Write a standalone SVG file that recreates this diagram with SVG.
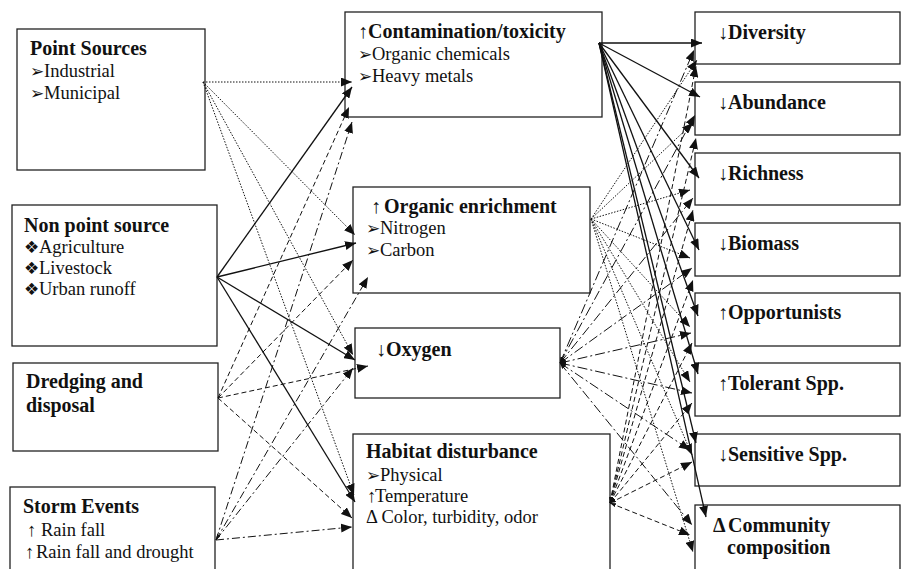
<svg xmlns="http://www.w3.org/2000/svg" width="901" height="569" viewBox="0 0 901 569">
<defs>
<marker id="ah" markerUnits="userSpaceOnUse" markerWidth="12" markerHeight="9" refX="11" refY="4.5" orient="auto"><path d="M0,0 L11,4.5 L0,9 z" fill="#111"/></marker>
<marker id="sm" markerUnits="userSpaceOnUse" markerWidth="7" markerHeight="5" refX="6" refY="2" orient="auto-start-reverse"><path d="M0,0 L6,2 L0,4 z" fill="#111"/></marker>
</defs>
<style>
rect{fill:#fff;stroke:#222;stroke-width:1.3}
text{font-family:"Liberation Serif","Times New Roman",serif;fill:#111}
.b{font-weight:bold;font-size:20px}
.r{font-size:18.5px}
.sym{font-family:"DejaVu Sans",sans-serif;font-size:17px;fill:#111}
.ar{font-family:"Liberation Serif","DejaVu Serif",serif;fill:#111}
line{stroke:#111;stroke-width:1;fill:none;marker-end:url(#ah)}
.sd{stroke-width:1.3}
.dt{stroke-dasharray:1.5 1.5}
.ds{stroke-dasharray:5 3}
.dd{stroke-dasharray:8 3 2 3}
.ox{stroke-dasharray:10 3 2 3;marker-start:url(#sm)}
.hb{stroke-dasharray:5 3;marker-start:url(#sm)}
</style>

<g id="point-sources">
<rect x="17" y="29" width="188" height="141"/>
<text class="b" x="30" y="55">Point Sources</text>
<text class="r" x="30" y="77"><tspan class="sym">➢</tspan><tspan x="44">Industrial</tspan></text>
<text class="r" x="30" y="99"><tspan class="sym">➢</tspan><tspan x="44">Municipal</tspan></text>
</g>
<g id="non-point-source">
<rect x="12" y="205" width="205" height="141"/>
<text class="b" x="24" y="232">Non point source</text>
<text class="r" x="24" y="253"><tspan class="sym">❖</tspan><tspan x="39">Agriculture</tspan></text>
<text class="r" x="24" y="274"><tspan class="sym">❖</tspan><tspan x="39">Livestock</tspan></text>
<text class="r" x="24" y="295"><tspan class="sym">❖</tspan><tspan x="39">Urban runoff</tspan></text>
</g>
<g id="dredging">
<rect x="13" y="363" width="205" height="88"/>
<text class="b" x="26" y="388">Dredging and</text>
<text class="b" x="26" y="412">disposal</text>
</g>
<g id="storm-events">
<rect x="10" y="487" width="205" height="100"/>
<text class="b" x="23" y="513">Storm Events</text>
<text class="r" x="27" y="536"><tspan class="ar">↑</tspan><tspan x="41">Rain fall</tspan></text>
<text class="r" x="25" y="558"><tspan class="ar">↑</tspan><tspan x="36">Rain fall and drought</tspan></text>
</g>

<g id="contamination">
<rect x="345" y="12" width="257" height="105"/>
<text class="b" x="358" y="38"><tspan class="ar">↑</tspan><tspan x="368">Contamination/toxicity</tspan></text>
<text class="r" x="358" y="60"><tspan class="sym">➢</tspan><tspan x="372">Organic chemicals</tspan></text>
<text class="r" x="358" y="82"><tspan class="sym">➢</tspan><tspan x="372">Heavy metals</tspan></text>
</g>
<g id="organic-enrichment">
<rect x="353" y="187" width="237" height="106"/>
<text class="b" x="371" y="213"><tspan class="ar">↑</tspan><tspan x="384">Organic enrichment</tspan></text>
<text class="r" x="366" y="234"><tspan class="sym">➢</tspan><tspan x="380">Nitrogen</tspan></text>
<text class="r" x="366" y="256"><tspan class="sym">➢</tspan><tspan x="380">Carbon</tspan></text>
</g>
<g id="oxygen">
<rect x="355" y="328" width="205" height="70"/>
<text class="b" x="376" y="356"><tspan class="ar">↓</tspan><tspan x="386">Oxygen</tspan></text>
</g>
<g id="habitat">
<rect x="353" y="434" width="257" height="150"/>
<text class="b" x="366" y="458">Habitat disturbance</text>
<text class="r" x="366" y="481"><tspan class="sym">➢</tspan><tspan x="380">Physical</tspan></text>
<text class="r" x="367" y="502"><tspan class="ar">↑</tspan><tspan x="375">Temperature</tspan></text>
<text class="r" x="366" y="523">Δ Color, turbidity, odor</text>
</g>

<g id="diversity"><rect x="695" y="12" width="205" height="52"/><text class="b" x="718" y="39"><tspan class="ar">↓</tspan><tspan x="728">Diversity</tspan></text></g>
<g id="abundance"><rect x="695" y="82" width="205" height="53"/><text class="b" x="718" y="109"><tspan class="ar">↓</tspan><tspan x="728">Abundance</tspan></text></g>
<g id="richness"><rect x="695" y="153" width="205" height="52"/><text class="b" x="718" y="180"><tspan class="ar">↓</tspan><tspan x="728">Richness</tspan></text></g>
<g id="biomass"><rect x="695" y="223" width="205" height="53"/><text class="b" x="718" y="250"><tspan class="ar">↓</tspan><tspan x="728">Biomass</tspan></text></g>
<g id="opportunists"><rect x="695" y="293" width="205" height="53"/><text class="b" x="718" y="319"><tspan class="ar">↑</tspan><tspan x="728">Opportunists</tspan></text></g>
<g id="tolerant"><rect x="695" y="363" width="205" height="53"/><text class="b" x="718" y="390"><tspan class="ar">↑</tspan><tspan x="728">Tolerant Spp.</tspan></text></g>
<g id="sensitive"><rect x="695" y="434" width="205" height="52"/><text class="b" x="718" y="461"><tspan class="ar">↓</tspan><tspan x="728">Sensitive Spp.</tspan></text></g>
<g id="community"><rect x="695" y="505" width="205" height="80"/><text class="b" x="713" y="532">Δ<tspan x="728">Community</tspan></text><text class="b" x="727" y="554">composition</text></g>

<g id="connectors">
<line class="dt" x1="203" y1="82" x2="352" y2="82"/>
<line class="dt" x1="203" y1="82" x2="355" y2="235"/>
<line class="dt" x1="203" y1="82" x2="353" y2="355"/>
<line class="dt" x1="203" y1="82" x2="354" y2="495"/>
<line class="sd" x1="217" y1="277" x2="352" y2="87"/>
<line class="sd" x1="217" y1="277" x2="356" y2="243"/>
<line class="sd" x1="217" y1="277" x2="355" y2="360"/>
<line class="sd" x1="217" y1="277" x2="355" y2="502"/>
<line class="ds" x1="218" y1="398" x2="349" y2="107"/>
<line class="ds" x1="218" y1="398" x2="353" y2="260"/>
<line class="ds" x1="218" y1="398" x2="368" y2="366"/>
<line class="ds" x1="218" y1="398" x2="352" y2="518"/>
<line class="dd" x1="216" y1="540" x2="352" y2="122"/>
<line class="dd" x1="216" y1="540" x2="368" y2="277" style="marker-start:url(#sm)"/>
<line class="dd" x1="216" y1="540" x2="353" y2="368"/>
<line class="dd" x1="216" y1="540" x2="352" y2="527"/>

<line class="sd" x1="599" y1="43" x2="702" y2="43"/>
<line class="sd" x1="599" y1="43" x2="700" y2="97"/>
<line class="sd" x1="599" y1="43" x2="699" y2="178"/>
<line class="sd" x1="599" y1="43" x2="699" y2="250"/>
<line class="sd" x1="599" y1="43" x2="698" y2="316"/>
<line class="sd" x1="599" y1="43" x2="698" y2="374"/>
<line class="sd" x1="599" y1="43" x2="696" y2="443"/>
<line class="sd" x1="599" y1="43" x2="706" y2="517"/>

<line class="dt" x1="591" y1="219" x2="697" y2="60"/>
<line class="dt" x1="591" y1="219" x2="693" y2="123"/>
<line class="dt" x1="591" y1="219" x2="690" y2="190"/>
<line class="dt" x1="591" y1="219" x2="690" y2="258"/>
<line class="dt" x1="591" y1="219" x2="690" y2="327"/>
<line class="dt" x1="591" y1="219" x2="690" y2="382"/>
<line class="dt" x1="591" y1="219" x2="692" y2="455"/>
<line class="dt" x1="591" y1="219" x2="693" y2="552"/>

<line class="ox" x1="560" y1="363" x2="694" y2="50"/>
<line class="ox" x1="560" y1="363" x2="695" y2="115"/>
<line class="ox" x1="560" y1="363" x2="693" y2="198"/>
<line class="ox" x1="560" y1="363" x2="692" y2="268"/>
<line class="ox" x1="560" y1="363" x2="691" y2="333"/>
<line class="ox" x1="560" y1="363" x2="692" y2="393"/>
<line class="ox" x1="560" y1="363" x2="690" y2="450"/>
<line class="ox" x1="560" y1="363" x2="692" y2="525"/>

<line class="hb" x1="610" y1="503" x2="696" y2="66"/>
<line class="hb" x1="610" y1="503" x2="696" y2="138"/>
<line class="hb" x1="610" y1="503" x2="693" y2="210"/>
<line class="hb" x1="610" y1="503" x2="693" y2="280"/>
<line class="hb" x1="610" y1="503" x2="692" y2="343"/>
<line class="hb" x1="610" y1="503" x2="692" y2="403"/>
<line class="hb" x1="610" y1="503" x2="692" y2="462"/>
<line class="hb" x1="610" y1="503" x2="690" y2="535"/>
</g>
</svg>
